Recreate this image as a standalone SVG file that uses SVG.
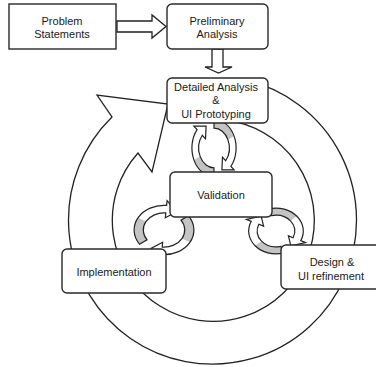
<svg xmlns="http://www.w3.org/2000/svg" xmlns:xlink="http://www.w3.org/1999/xlink" width="376" height="367" viewBox="0 0 376 367">
<style>
.box{fill:#fff;stroke:#2a2a2a;stroke-width:1.4}
.ln{fill:#fff;stroke:#222;stroke-width:1.3;stroke-linejoin:miter}
.t{font-family:"Liberation Sans",Arial,sans-serif;font-size:11px;fill:#1a1a1a;text-anchor:middle}
.cw{fill:#fff;stroke:none}
.cg{fill:#c4c4c4;stroke:none}
.co{fill:none;stroke:#222;stroke-width:1.2;vector-effect:non-scaling-stroke}
</style>
<defs>
<g id="arr">
<path class="cw" d="M6.73,-25.11 A26,26 0 0 1 14.91,21.30 L17.78,25.39 L3.82,21.67 L7.46,10.65 L10.32,14.75 A18,18 0 0 0 4.66,-17.39 Z"/>
<path class="cg" d="M6.73,-25.11 A26,26 0 0 1 25.61,-4.51 L17.73,-3.13 A18,18 0 0 0 4.66,-17.39 Z"/>
<path class="co" d="M6.73,-25.11 A26,26 0 0 1 14.91,21.30 L17.78,25.39 L3.82,21.67 L7.46,10.65 L10.32,14.75 A18,18 0 0 0 4.66,-17.39 Z"/>
</g>
<g id="cyc">
<use xlink:href="#arr"/>
<use xlink:href="#arr" transform="rotate(180)"/>
</g>
</defs>
<rect width="376" height="367" fill="#fff"/>
<g id="connectors">
<path id="ring" class="ln" d="M112,117 A144,144 0 1 0 244.4,79.7 L234.7,121.6 A101,101 0 1 1 138,153 L152,172 L168,104 L97,95 Z"/>
<use id="cycle1" xlink:href="#cyc" transform="translate(214,148) scale(0.85,1.1) rotate(-15)"/>
<use id="cycle2" xlink:href="#cyc" transform="translate(164,230) scale(1.15,0.95) rotate(40)"/>
<use id="cycle3" xlink:href="#cyc" transform="translate(276,231) scale(1.05,0.88) rotate(-30)"/>
<polygon id="arrow1" class="ln" points="117,21 152,21 152,15 166,26.5 152,38 152,32 117,32"/>
<polygon id="arrow2" class="ln" points="212,49 212,67 205,67 218.5,73 232,67 223,67 223,49"/>
</g>
<g id="problem">
<rect class="box" x="9" y="4" width="107" height="45"/>
<text class="t" x="62" y="25">Problem</text>
<text class="t" x="62" y="38">Statements</text>
</g>
<g id="preliminary">
<rect class="box" x="167" y="4" width="101" height="45" rx="5"/>
<text class="t" x="217" y="25">Preliminary</text>
<text class="t" x="217" y="38">Analysis</text>
</g>
<g id="detailed">
<rect class="box" x="167" y="78" width="101" height="45" rx="5"/>
<text class="t" x="216" y="91">Detailed Analysis</text>
<text class="t" x="216" y="104">&amp;</text>
<text class="t" x="216" y="118">UI Prototyping</text>
</g>
<g id="validation">
<rect class="box" x="170" y="172" width="102" height="45" rx="5"/>
<text class="t" x="221" y="199">Validation</text>
</g>
<g id="implementation">
<rect class="box" x="62" y="249" width="104" height="44" rx="5"/>
<text class="t" x="114" y="276">Implementation</text>
</g>
<g id="design">
<rect class="box" x="281" y="245" width="100" height="44" rx="5"/>
<text class="t" x="332" y="266">Design &amp;</text>
<text class="t" x="331" y="280">UI refinement</text>
</g>
</svg>
